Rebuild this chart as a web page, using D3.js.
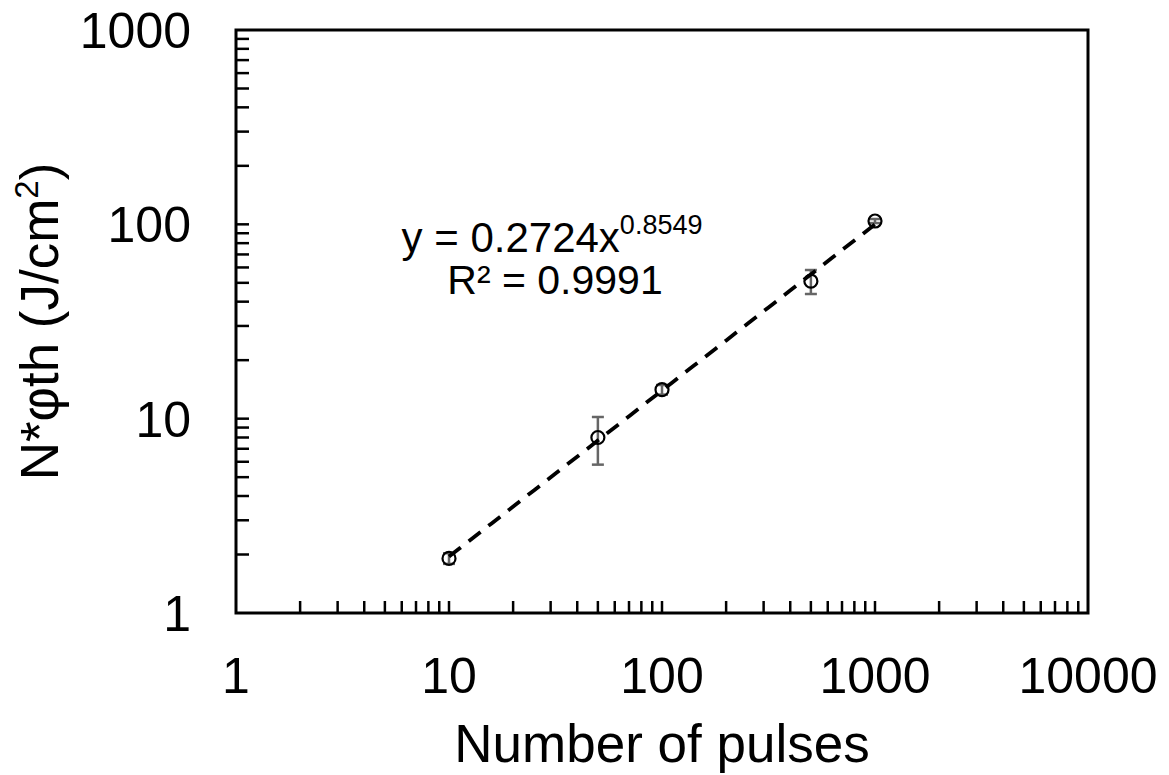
<!DOCTYPE html>
<html><head><meta charset="utf-8">
<script src="https://cdn.jsdelivr.net/npm/d3@7"></script>
<style>body{margin:0;background:#fff}svg{display:block}text{font-family:"Liberation Sans",Arial,sans-serif;fill:#000}</style>
</head><body><svg id="c" width="1169" height="775"></svg>
<script>
const pulses = [10, 50, 100, 500, 1000];
const fluence = [1.91, 8.0, 14.1, 51, 104];
const errors = [0.12, 2.2, 0.8, 7.2, 2.5];
const xTickValues = [1, 10, 100, 1000, 10000];
const yTickValues = [1, 10, 100, 1000];
const fitA = 0.2724, fitB = 0.8549;
const fitRange = [10, 1000];

const svg = d3.select("#c");
const L = 236, R = 1088, T = 30, B = 613;
const x = d3.scaleLog().domain([1, 10000]).range([L, R]);
const y = d3.scaleLog().domain([1, 1000]).range([B, T]);

const xt = [];
for (let d = 1; d < 10000; d *= 10) for (let k = 1; k <= 9; k++) if (d * k > 1) xt.push(d * k);
const yt = [];
for (let d = 1; d < 1000; d *= 10) for (let k = 1; k <= 9; k++) if (d * k > 1) yt.push(d * k);

const g = svg.append("g");
g.selectAll(".xt").data(xt).join("line")
  .attr("x1", d => x(d)).attr("x2", d => x(d))
  .attr("y1", B).attr("y2", B - 12)
  .attr("stroke", "#000").attr("stroke-width", 2.5);
g.selectAll(".yt").data(yt).join("line")
  .attr("y1", d => y(d)).attr("y2", d => y(d))
  .attr("x1", L).attr("x2", L + 13)
  .attr("stroke", "#000").attr("stroke-width", 2.5);

svg.append("rect").attr("x", L).attr("y", T).attr("width", R - L).attr("height", B - T)
  .attr("fill", "none").attr("stroke", "#000").attr("stroke-width", 3);

svg.selectAll(".xl").data(xTickValues).join("text")
  .attr("x", d => x(d)).attr("y", 693).attr("text-anchor", "middle")
  .attr("font-size", 50).text(d => d);
svg.selectAll(".yl").data(yTickValues).join("text")
  .attr("x", 191).attr("y", d => y(d) + 18).attr("text-anchor", "end")
  .attr("font-size", 50).text(d => d);

svg.append("text").attr("x", (L + R) / 2).attr("y", 762).attr("text-anchor", "middle")
  .attr("font-size", 53).text("Number of pulses");
const yt2 = svg.append("text").attr("transform", `translate(58,${(T + B) / 2}) rotate(-90)`)
  .attr("text-anchor", "middle").attr("font-size", 53);
yt2.append("tspan").text("N*φth (J/cm");
yt2.append("tspan").attr("font-size", 33).attr("dy", -20).text("2");
yt2.append("tspan").attr("dy", 20).text(")");

const eb = svg.append("g").attr("stroke", "#666").attr("stroke-width", 2.5);
pulses.forEach((p, i) => {
  const v = fluence[i], e = errors[i];
  const cx = x(p), y1 = y(v + e), y2 = y(v - e);
  eb.append("line").attr("x1", cx).attr("x2", cx).attr("y1", y1).attr("y2", y2);
  eb.append("line").attr("x1", cx - 6).attr("x2", cx + 6).attr("y1", y1).attr("y2", y1);
  eb.append("line").attr("x1", cx - 6).attr("x2", cx + 6).attr("y1", y2).attr("y2", y2);
});

svg.selectAll(".pt").data(pulses).join("circle")
  .attr("cx", d => x(d)).attr("cy", (d, i) => y(fluence[i])).attr("r", 6.5)
  .attr("fill", "none").attr("stroke", "#000").attr("stroke-width", 2.2);

const fx = d3.range(0, 41).map(i => fitRange[0] * Math.pow(fitRange[1] / fitRange[0], i / 40));
svg.append("path").datum(fx)
  .attr("d", d3.line().x(d => x(d)).y(d => y(fitA * Math.pow(d, fitB))))
  .attr("fill", "none").attr("stroke", "#000").attr("stroke-width", 3.8)
  .attr("stroke-dasharray", "15,10");

const eq = svg.append("text").attr("x", 552).attr("y", 252).attr("text-anchor", "middle").attr("font-size", 42);
eq.append("tspan").text("y = 0.2724x");
eq.append("tspan").attr("font-size", 27).attr("dy", -18).text("0.8549");
svg.append("text").attr("x", 555).attr("y", 294).attr("text-anchor", "middle").attr("font-size", 41)
  .text("R² = 0.9991");
</script></body></html>
